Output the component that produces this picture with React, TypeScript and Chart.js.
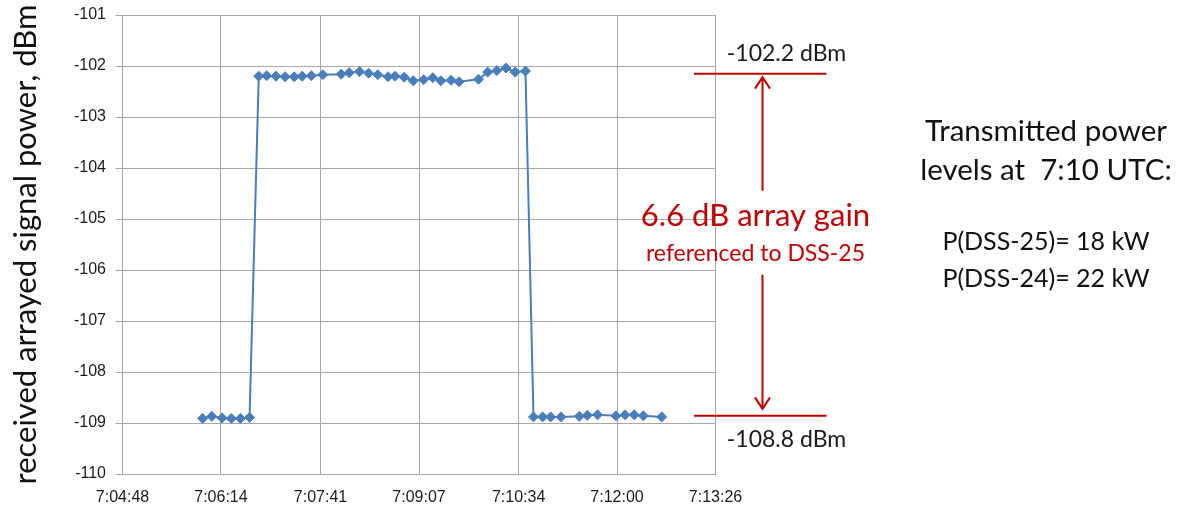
import React, { useEffect, useRef } from "react";
import { Chart, registerables } from "chart.js";

Chart.register(...registerables);

// ---- data ----
const TIMES = [
  "7:05:58", "7:06:06", "7:06:15", "7:06:23", "7:06:31", "7:06:39",
  "7:06:47", "7:06:54", "7:07:02", "7:07:10", "7:07:18", "7:07:25", "7:07:33", "7:07:43",
  "7:07:59", "7:08:06", "7:08:15", "7:08:23", "7:08:31", "7:08:40", "7:08:46", "7:08:54",
  "7:09:02", "7:09:11", "7:09:19", "7:09:26", "7:09:35", "7:09:42",
  "7:09:59", "7:10:07", "7:10:15", "7:10:23", "7:10:31", "7:10:40",
  "7:10:47", "7:10:55", "7:11:02", "7:11:11", "7:11:27", "7:11:34", "7:11:43",
  "7:11:59", "7:12:07", "7:12:15", "7:12:23", "7:12:39",
];
const POWER_DBM = [
  -108.91, -108.87, -108.9, -108.91, -108.91, -108.89,
  -102.2, -102.19, -102.2, -102.21, -102.21, -102.2, -102.19, -102.17,
  -102.16, -102.13, -102.11, -102.14, -102.17, -102.21, -102.2, -102.22,
  -102.29, -102.27, -102.23, -102.29, -102.28, -102.31,
  -102.26, -102.12, -102.09, -102.04, -102.12, -102.1,
  -108.88, -108.88, -108.88, -108.88, -108.87, -108.85, -108.84,
  -108.86, -108.84, -108.84, -108.86, -108.88,
];
const X_TICK_LABELS = ["7:04:48", "7:06:14", "7:07:41", "7:09:07", "7:10:34", "7:12:00", "7:13:26"];
const Y_MIN = -110;
const Y_MAX = -101;
const Y_TITLE = "received arrayed signal power, dBm";

const LEVEL_LINES = [-102.15, -108.86];
const LEVEL_LABELS = ["-102.2 dBm", "-108.8 dBm"];
const GAIN_LABEL = "6.6 dB array gain";
const GAIN_SUB = "referenced to DSS-25";
const INFO_LINES = ["Transmitted power", "levels at  7:10 UTC:"];
const POWER_LINES = ["P(DSS-25)= 18 kW", "P(DSS-24)= 22 kW"];

const toSec = (s: string) => {
  const [h, m, sec] = s.split(":").map(Number);
  return h * 3600 + m * 60 + sec;
};
const fmt = (v: number) => {
  const t = Math.round(v);
  const h = Math.floor(t / 3600);
  const m = Math.floor((t % 3600) / 60);
  const s = t % 60;
  return `${h}:${String(m).padStart(2, "0")}:${String(s).padStart(2, "0")}`;
};

const RED = "#c00000";
const BLUE = "#4a7ebb";
const GRID = "#a6a6a6";
const SANS = "Lato, 'Open Sans', sans-serif";

const annotationPlugin = {
  id: "annot",
  afterDraw(chart: any) {
    const { ctx, chartArea, scales } = chart;
    const y = scales.y;
    const R = chartArea.right;
    const yTop = y.getPixelForValue(LEVEL_LINES[0]);
    const yBot = y.getPixelForValue(LEVEL_LINES[1]);
    const mid = (yTop + yBot) / 2;
    const ax = R + 47;
    ctx.save();
    ctx.strokeStyle = RED;
    ctx.lineWidth = 2;
    // horizontal level lines
    [yTop, yBot].forEach((yy) => {
      ctx.beginPath();
      ctx.moveTo(R - 21.5, yy);
      ctx.lineTo(R + 111, yy);
      ctx.stroke();
    });
    // top arrow
    const tipT = yTop + 3.5;
    ctx.beginPath();
    ctx.moveTo(ax, mid - 54);
    ctx.lineTo(ax, tipT);
    ctx.moveTo(ax - 7.5, tipT + 11.5);
    ctx.lineTo(ax, tipT);
    ctx.lineTo(ax + 7.5, tipT + 11.5);
    ctx.stroke();
    // bottom arrow
    const tipB = yBot - 7;
    ctx.beginPath();
    ctx.moveTo(ax, mid + 30);
    ctx.lineTo(ax, tipB);
    ctx.moveTo(ax - 7.5, tipB - 11.5);
    ctx.lineTo(ax, tipB);
    ctx.lineTo(ax + 7.5, tipB - 11.5);
    ctx.stroke();

    // labels
    ctx.textAlign = "center";
    ctx.textBaseline = "middle";
    ctx.fillStyle = "#1a1a1a";
    ctx.font = `23px ${SANS}`;
    ctx.fillText(LEVEL_LABELS[0], R + 71, yTop - 20);
    ctx.fillText(LEVEL_LABELS[1], R + 71, yBot + 24);

    ctx.textBaseline = "alphabetic";
    ctx.fillStyle = RED;
    ctx.font = `31px ${SANS}`;
    ctx.fillText(GAIN_LABEL, R + 40, mid - 18.5);
    ctx.font = `23px ${SANS}`;
    ctx.fillText(GAIN_SUB, R + 40, mid + 16);

    ctx.fillStyle = "#111";
    ctx.font = `29.5px ${SANS}`;
    const cx = R + 330.5;
    ctx.fillText(INFO_LINES[0], cx, 140.5);
    ctx.fillText(INFO_LINES[1], cx, 180);
    ctx.font = `25px ${SANS}`;
    ctx.fillText(POWER_LINES[0], cx, 250);
    ctx.fillText(POWER_LINES[1], cx, 286.5);
    ctx.restore();
  },
};

export default function App() {
  const ref = useRef<HTMLCanvasElement | null>(null);
  useEffect(() => {
    if (!ref.current) return;
    const points = TIMES.map((t, i) => ({ x: toSec(t), y: POWER_DBM[i] }));
    const xTicks = X_TICK_LABELS.map(toSec);
    const chart = new Chart(ref.current, {
      type: "line",
      data: {
        datasets: [
          {
            data: points,
            borderColor: BLUE,
            backgroundColor: BLUE,
            borderWidth: 2,
            pointStyle: "rectRot",
            pointRadius: 5,
            pointBorderWidth: 1,
            tension: 0,
          },
        ],
      },
      options: {
        responsive: false,
        animation: false,
        devicePixelRatio: 1,
        layout: { padding: { left: 0, right: 467.5, top: 15, bottom: 0 } },
        plugins: { legend: { display: false }, tooltip: { enabled: false } },
        scales: {
          x: {
            type: "linear",
            min: xTicks[0],
            max: xTicks[xTicks.length - 1],
            afterBuildTicks: (scale: any) => {
              scale.ticks = xTicks.map((v) => ({ value: v }));
            },
            afterFit: (scale: any) => {
              scale.height = 34;
              scale.paddingLeft = 0;
              scale.paddingRight = 0;
            },
            grid: { color: GRID, lineWidth: 1, drawTicks: false },
            border: { color: GRID, width: 1 },
            ticks: {
              callback: (v: any) => fmt(Number(v)),
              font: { family: "'Liberation Sans', Arial, sans-serif", size: 16 },
              color: "#1a1a1a",
              padding: 14,
              maxRotation: 0,
              autoSkip: false,
            },
          },
          y: {
            min: Y_MIN,
            max: Y_MAX,
            afterFit: (scale: any) => {
              scale.width = 122.5;
              scale.paddingTop = 0;
              scale.paddingBottom = 0;
            },
            grid: { color: GRID, lineWidth: 1, drawTicks: true, tickLength: 7 },
            border: { color: GRID, width: 1 },
            ticks: {
              stepSize: 1,
              font: { family: "'Liberation Sans', Arial, sans-serif", size: 16 },
              color: "#1a1a1a",
              padding: 9.5,
            },
            title: {
              display: true,
              text: Y_TITLE,
              font: { family: SANS, size: 31 },
              color: "#111",
              padding: { top: 7, bottom: 0 },
            },
          },
        },
      },
      plugins: [annotationPlugin],
    });
    return () => chart.destroy();
  }, []);
  return (
    <div style={{ position: "absolute", left: 0, top: 0, width: 1183, height: 508, background: "#fff" }}>
      <canvas ref={ref} width={1183} height={508} />
    </div>
  );
}
